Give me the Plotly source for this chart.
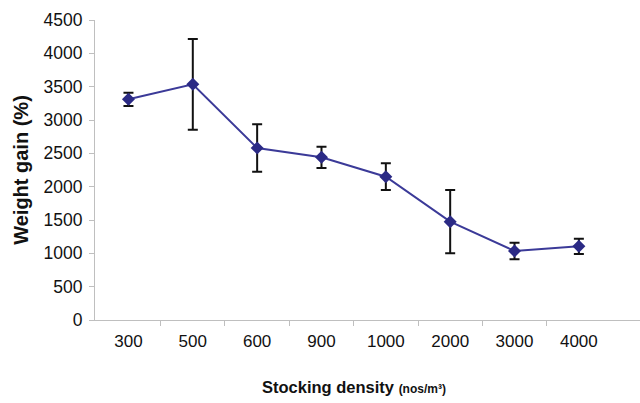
import plotly.graph_objects as go

categories = ["300", "500", "600", "900", "1000", "2000", "3000", "4000"]
weight_gain = [3310, 3535, 2580, 2440, 2150, 1475, 1035, 1105]
err = [100, 680, 355, 160, 200, 475, 125, 115]
yticks = [0, 500, 1000, 1500, 2000, 2500, 3000, 3500, 4000, 4500]

idx = list(range(len(categories)))
bounds = [i + 0.5 for i in idx[:-1]]

fig = go.Figure()
fig.add_trace(go.Scatter(
    x=idx, y=weight_gain, mode="lines+markers",
    line=dict(color="#3b3a98", width=2),
    marker=dict(symbol="diamond", size=10, color="#2b2a85"),
    error_y=dict(type="data", array=err, visible=True, color="#111111", thickness=2, width=5),
    showlegend=False,
))
fig.add_trace(go.Scatter(x=bounds, y=[None] * len(bounds), xaxis="x2", showlegend=False, hoverinfo="skip"))

xr = [-0.52, 7.95]
fig.update_layout(
    width=640, height=403,
    margin=dict(l=95, r=0, t=20, b=83),
    paper_bgcolor="white", plot_bgcolor="white",
    font=dict(family="Liberation Sans, Arial, sans-serif", color="#111111"),
    xaxis=dict(
        range=xr, tickvals=idx, ticktext=categories, ticks="",
        showline=True, linecolor="#bfbfbf", linewidth=1, showgrid=False, zeroline=False,
        tickfont=dict(size=17), ticklabelstandoff=6,
    ),
    xaxis2=dict(
        range=xr, overlaying="x", side="bottom", tickvals=bounds, ticks="outside",
        ticklen=5, tickcolor="#bfbfbf", showticklabels=False, showgrid=False, zeroline=False,
        showline=False,
    ),
    yaxis=dict(
        range=[0, 4500], tickvals=yticks, ticks="outside", ticklen=5, tickcolor="#bfbfbf",
        showline=True, linecolor="#bfbfbf", linewidth=1, showgrid=False, zeroline=False,
        tickfont=dict(size=17.5), ticklabelstandoff=3,
        title=dict(text="<b>Weight gain (%)</b>", font=dict(size=20), standoff=9),
    ),
    annotations=[dict(
        text="<b>Stocking density</b> <b><span style='font-size:12px'>(nos/m³)</span></b>",
        xref="x", x=3.5, yref="paper", y=0, yanchor="middle", yshift=-67,
        showarrow=False, font=dict(size=16.5),
    )],
)
fig.write_html("out.html")
